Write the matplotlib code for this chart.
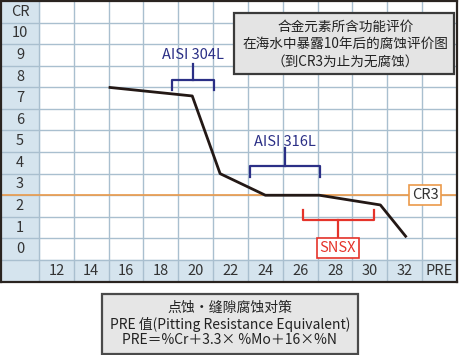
import matplotlib.pyplot as plt
from matplotlib.patches import Rectangle

plt.rcParams['font.family'] = ['Noto Sans CJK SC', 'DejaVu Sans']

# --- data ---
pre_values = [15, 19.8, 21.4, 24, 27.1, 30.6, 32.1]
cr_values = [8.0, 7.6, 4.0, 3.0, 3.0, 2.55, 1.05]

x_ticks = [12, 14, 16, 18, 20, 22, 24, 26, 28, 30, 32, 34]
x_labels = ['12', '14', '16', '18', '20', '22', '24', '26', '28', '30', '32', 'PRE']
y_ticks = list(range(12))
y_labels = ['0', '1', '2', '3', '4', '5', '6', '7', '8', '9', '10', 'CR']

cr_limit = 3
cr_limit_label = 'CR3'

title_text = '合金元素所含功能评价\n在海水中暴露10年后的腐蚀评价图\n（到CR3为止为无腐蚀）'
note_text = '点蚀・缝隙腐蚀对策\nPRE 值(Pitting Resistance Equivalent)\nPRE＝%Cr＋3.3× %Mo＋16×%N'

navy = '#2b2f86'
red = '#e5332a'
orange = '#eb9a4a'
shade = '#d5e4ee'
grid_c = '#a9bfcf'

fig = plt.figure(figsize=(4.6, 3.55), dpi=100)
ax = fig.add_axes([1 / 460, (355 - 282) / 355, 456 / 460, 281 / 355])
ax.set_xlim(8.82, 35)
ax.set_ylim(-1.02, 12)
ax.set_xticks([])
ax.set_yticks([])
for s in ax.spines.values():
    s.set_color('#2a2420')
    s.set_linewidth(1.6)

# shaded label column / row
ax.axvspan(8.82, 11, color=shade, zorder=0)
ax.axhspan(-1.02, 0, color=shade, zorder=0)

# grid
for gx in range(11, 35, 2):
    ax.axvline(gx, color=grid_c, lw=1.0, zorder=1)
for gy in range(0, 12):
    ax.axhline(gy, color=grid_c, lw=1.0, zorder=1)

# tick labels inside shaded cells
for x, lab in zip(x_ticks, x_labels):
    ax.text(x, -0.5, lab, ha='center', va='center', fontsize=10.5, color='#333333')
for y, lab in zip(y_ticks, y_labels):
    ax.text(9.91, y + 0.5, lab, ha='center', va='center', fontsize=10.5, color='#333333')

# CR3 line
ax.axhline(cr_limit, color=orange, lw=1.2, zorder=2)
ax.text(33.16, cr_limit, cr_limit_label, ha='center', va='center', fontsize=10.5, color='#333333',
        bbox=dict(boxstyle='square,pad=0.2', fc='white', ec=orange, lw=1.2), zorder=4)

# data line
ax.plot(pre_values, cr_values, color='#231815', lw=2.0, zorder=3, solid_capstyle='butt')

# AISI 304L bracket
ax.plot([18.62, 18.62, 21.05, 21.05], [7.86, 8.36, 8.36, 7.86], color=navy, lw=1.6, zorder=3)
ax.plot([19.84, 19.84], [8.36, 9.1], color=navy, lw=1.6, zorder=3)
ax.text(19.84, 9.5, 'AISI 304L', ha='center', va='center', fontsize=10.5, color=navy)

# AISI 316L bracket
ax.plot([23.09, 23.09, 27.12, 27.12], [3.85, 4.34, 4.34, 3.85], color=navy, lw=1.6, zorder=3)
ax.plot([25.11, 25.11], [4.34, 5.17], color=navy, lw=1.6, zorder=3)
ax.text(25.11, 5.46, 'AISI 316L', ha='center', va='center', fontsize=10.5, color=navy)

# SNSX bracket
ax.plot([26.17, 26.17, 30.26, 30.26], [2.31, 1.85, 1.85, 2.31], color=red, lw=1.6, zorder=3)
ax.plot([28.15, 28.15], [1.85, 0.96], color=red, lw=1.6, zorder=3)
ax.text(28.15, 0.57, 'SNSX', ha='center', va='center', fontsize=10.5, color=red,
        bbox=dict(boxstyle='square,pad=0.2', fc='white', ec=red, lw=1.2), zorder=4)

# title box
ax.add_patch(Rectangle((22.17, 8.63), 34.84 - 22.17, 11.46 - 8.63, fc='#e4e4e4', ec='#3a3a3a', lw=1.6, zorder=5))
ax.text(28.59, 10.0, title_text, ha='center', va='center', fontsize=9.8, color='#222222',
        linespacing=1.32, zorder=6)

# bottom note box
fig.add_artist(Rectangle((101.7 / 460, 1.5 / 355), 256 / 460, 60 / 355, transform=fig.transFigure,
                         fc='#e6e6e6', ec='#4a4a4a', lw=1.6))
fig.text(230 / 460, (355 - 324) / 355, note_text, ha='center', va='center', fontsize=10,
         color='#222222', linespacing=1.12)

fig.savefig('out.png', dpi=100)
